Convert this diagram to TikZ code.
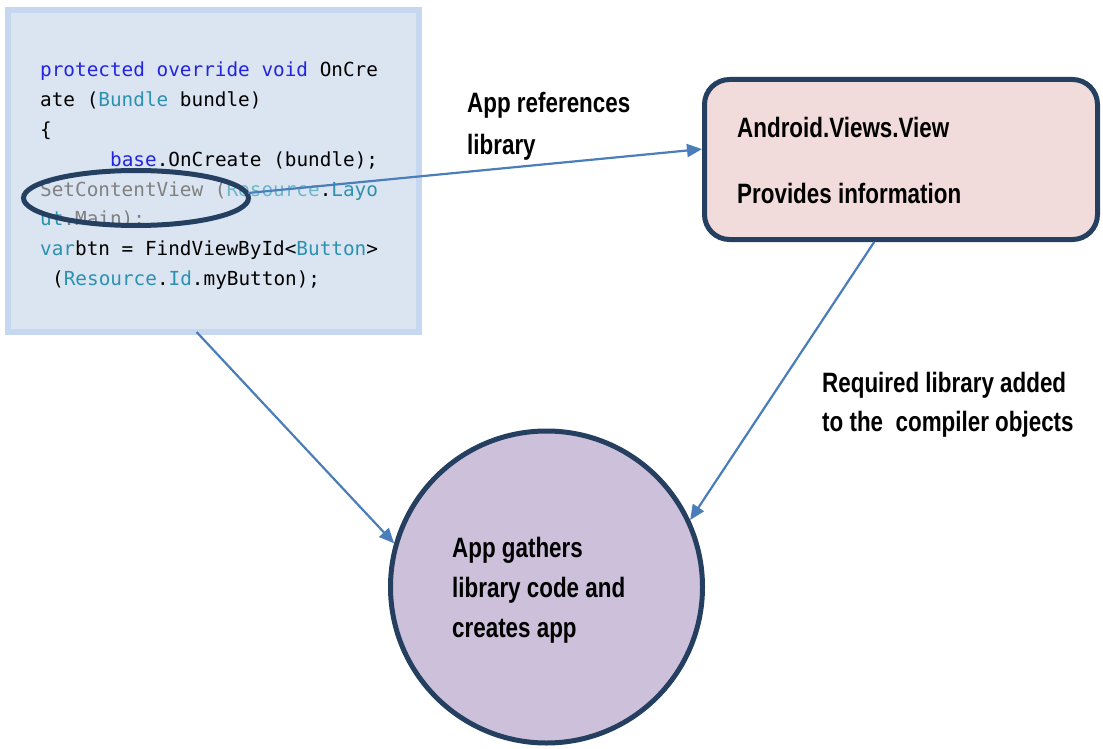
\documentclass[tikz,border=0pt]{standalone}
\usepackage{fontspec}
\setmainfont{Liberation Sans}[FakeStretch=0.8]
\newfontfamily\codefont{DejaVu Sans Mono}
\usetikzlibrary{arrows.meta,shapes.geometric}

\definecolor{codebg}{HTML}{DBE5F1}
\definecolor{codeframe}{HTML}{C6D8F0}
\definecolor{navy}{HTML}{243F60}
\definecolor{pinkfill}{HTML}{F2DCDB}
\definecolor{lilac}{HTML}{CCC0DA}
\definecolor{link}{HTML}{4A7EBB}
\definecolor{kwblue}{HTML}{2424E0}
\definecolor{tyteal}{HTML}{2B91AF}
\definecolor{tyfade}{HTML}{6CB6CC}
\definecolor{dimgray}{HTML}{808080}

\newcommand{\kw}[1]{\textcolor{kwblue}{#1}}
\newcommand{\ty}[1]{\textcolor{tyteal}{#1}}
\newcommand{\tyf}[1]{\textcolor{tyfade}{#1}}
\newcommand{\gr}[1]{\textcolor{dimgray}{#1}}

\tikzset{
  codeline/.style={anchor=base west, inner sep=0pt, font=\codefont\fontsize{19.35}{29.7}\selectfont},
  label/.style={anchor=base west, inner sep=0pt, font=\bfseries\fontsize{28}{40}\selectfont},
  connector/.style={draw=link, line width=2.2pt, -{Triangle[length=15pt,width=13pt]}},
}

\begin{document}
\begin{tikzpicture}[x=1pt,y=-1pt]
\useasboundingbox (0,0) rectangle (1103,749);

% code panel
\node[draw=codeframe, fill=codebg, line width=6pt, minimum width=411pt, minimum height=322pt,
      inner sep=0pt, outer sep=0pt] (cb) at (213.5,171) {};

\node[codeline] (c1) at (40,77)    {\kw{protected override void} OnCre};
\node[codeline] (c2) at (40,107)   {ate (\ty{Bundle} bundle)};
\node[codeline] (c3) at (40,136.5) {\{};
\node[codeline] (c4) at (110,166)  {\kw{base}.OnCreate (bundle);};
\node[codeline] (c5) at (40,196)   {\gr{SetContentView (}\tyf{Resource}.\ty{Layo}};
\node[codeline] (c6) at (40,225.5) {\ty{ut}\gr{.Main);}};
\node[codeline] (c7) at (40,255)   {\ty{var}btn = FindViewById<\ty{Button}>};
\node[codeline] (c8) at (52,285)   {(\ty{Resource}.\ty{Id}.myButton);};

% highlight ring round the layout call
\node[ellipse, draw=navy, line width=5pt, minimum width=225pt, minimum height=55pt,
      inner sep=0pt] (hl) at (136,198) {};
\coordinate (src) at (248,193);

% library box
\node[draw=navy, fill=pinkfill, line width=5pt, rounded corners=25pt,
      minimum width=393pt, minimum height=160pt, inner sep=0pt] (pk) at (901,159.5) {};
\node[label] (pk1) at (737,138) {Android.Views.View};
\node[label] (pk2) at (737,203) {Provides information};

% app circle
\node[circle, draw=navy, fill=lilac, line width=5pt, minimum size=312pt, inner sep=0pt] (ci) at (546.5,587) {};
\node[label] (ci1) at (452,557) {App gathers};
\node[label] (ci2) at (452,597) {library code and};
\node[label] (ci3) at (452,637) {creates app};

% edge labels
\node[label] (l1) at (467,113) {App references};
\node[label] (l2) at (467,154) {library};
\node[label] (l3) at (822,392) {Required library added};
\node[label] (l4) at (822,431) {to the\ \ compiler objects};

% connectors
\draw[connector] (src) -- (pk.177);
\draw[connector] (cb.264) -- (ci.164);
\draw[connector] (pk.252) -- (ci.25);
\end{tikzpicture}
\end{document}
